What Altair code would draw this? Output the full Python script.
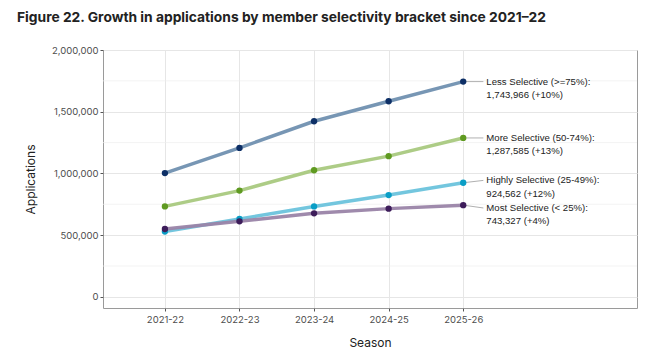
import altair as alt
import pandas as pd

seasons = ["2021-22", "2022-23", "2023-24", "2024-25", "2025-26"]
groups = ["Less Selective (>=75%)", "More Selective (50-74%)",
          "Highly Selective (25-49%)", "Most Selective (< 25%)"]
less = [1003000, 1207000, 1423000, 1585000, 1743966]
more = [733000, 861000, 1026000, 1140000, 1287585]
highly = [530000, 631000, 733000, 825000, 924562]
most = [550000, 612000, 677000, 715000, 743327]
series = [less, more, highly, most]
pct = ["+10%", "+13%", "+12%", "+4%"]
label_y = [1743966, 1287585, 943600, 720300]
line_colors = ["#7090b0", "#a9c980", "#6cc3dc", "#9a84a8"]
point_colors = ["#0d2f66", "#5f9a21", "#0a9ec6", "#3d1c5a"]
y_major = [0, 500000, 1000000, 1500000, 2000000]
y_minor = [250000, 750000, 1250000, 1750000]

rows = []
for g, vals in zip(groups, series):
    for i, v in enumerate(vals):
        rows.append({"group": g, "idx": i, "season": seasons[i], "value": v})
df = pd.DataFrame(rows)

lab_rows = []
for g, vals, p, ly in zip(groups, series, pct, label_y):
    lab_rows.append({"group": g, "x0": 4, "y0": vals[-1], "x1": 4.27, "y1": ly,
                     "xt": 4.31, "label": f"{g}:\n{vals[-1]:,} ({p})"})
lab = pd.DataFrame(lab_rows)

minor = pd.DataFrame({"v": y_minor})

xscale = alt.Scale(domain=[-0.83, 6.33], nice=False, zero=False)
yscale = alt.Scale(domain=[-90000, 2000000], nice=False, zero=False)
label_expr = "[" + ",".join(f"'{s}'" for s in seasons) + "][datum.value]"
color_line = alt.Scale(domain=groups, range=line_colors)
color_pt = alt.Scale(domain=groups, range=point_colors)

minor_rules = alt.Chart(minor).mark_rule(color="#efefef", strokeWidth=0.7).encode(
    y=alt.Y("v:Q", scale=yscale)
)

x_enc = alt.X("idx:Q", scale=xscale, title="Season",
              axis=alt.Axis(values=[0, 1, 2, 3, 4], labelExpr=label_expr,
                            grid=True, titlePadding=14))
y_enc = alt.Y("value:Q", scale=yscale, title="Applications",
              axis=alt.Axis(values=y_major, format=",d", grid=True, titlePadding=14))

lines = alt.Chart(df).mark_line(strokeWidth=3.5, opacity=0.95).encode(
    x=x_enc, y=y_enc,
    color=alt.Color("group:N", scale=color_line, legend=None),
    order="idx:Q",
    detail="group:N",
)
points = alt.Chart(df).mark_circle(size=40, opacity=1).encode(
    x="idx:Q", y="value:Q",
    color=alt.Color("group:N", scale=color_pt, legend=None),
)
segs = alt.Chart(lab).mark_rule(color="#b0b0b0", strokeWidth=1).encode(
    x="x0:Q", y="y0:Q", x2="x1:Q", y2="y1:Q"
)
texts = alt.Chart(lab).mark_text(align="left", baseline="middle", fontSize=9.6,
                                 font="Liberation Sans", color="#222222",
                                 lineHeight=13.3, lineBreak="\n").encode(
    x="xt:Q", y="y1:Q", text="label:N"
)

chart = alt.layer(minor_rules, segs, lines, points, texts).resolve_scale(
    color="independent"
).properties(
    width=534, height=258,
    autosize=alt.AutoSizeParams(type="none"),
    padding={"left": 95, "top": 42, "right": 12, "bottom": 45},
    title=alt.TitleParams(
        "Figure 22. Growth in applications by member selectivity bracket since 2021\u201322",
        anchor="start", frame="group", dx=-86, offset=20, fontSize=13.8,
        font="Inter", fontWeight="bold", color="#222222"),
).configure_view(stroke="#9a9a9a", strokeWidth=1).configure_axis(
    domain=False, gridColor="#e6e6e6", gridWidth=1, tickColor="#555555",
    tickSize=3, labelFont="Inter", labelFontSize=9.5, labelColor="#4d4d4d",
    titleFont="Inter", titleFontSize=12, titleFontWeight="normal", titleColor="#222222",
    labelPadding=2
).configure_axisX(labelPadding=3)

chart.save("out.html", embed_options={"renderer": "svg", "actions": False})
